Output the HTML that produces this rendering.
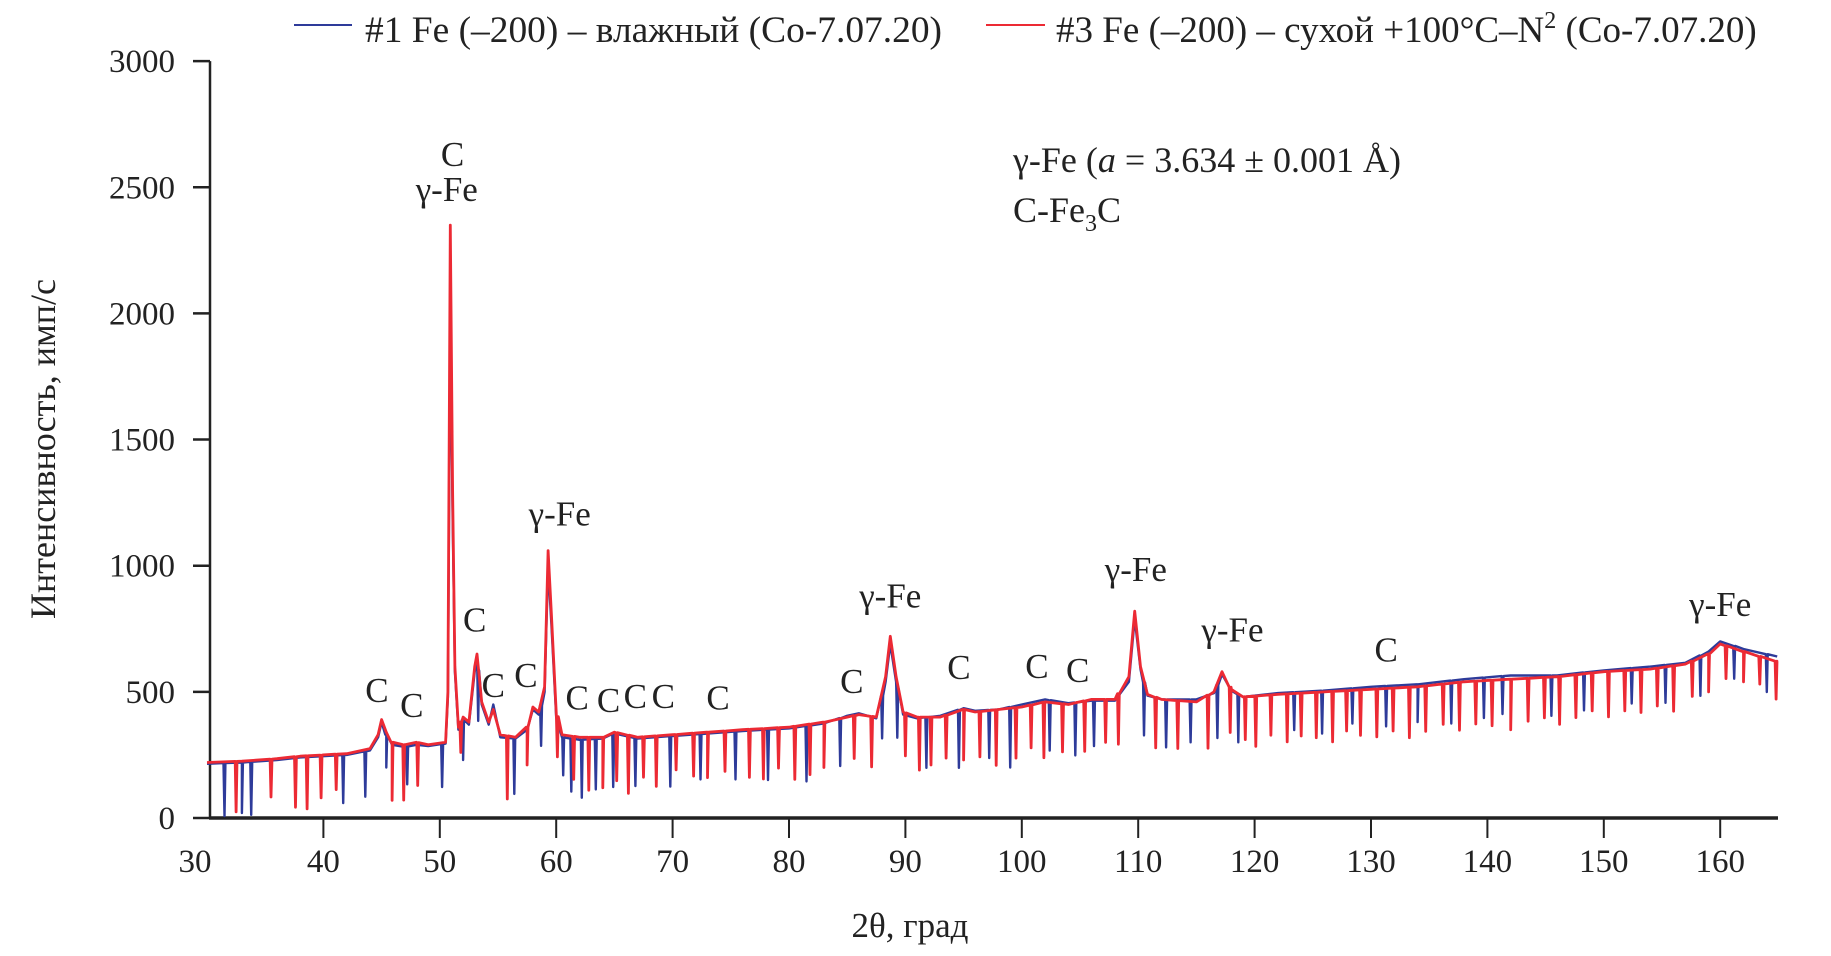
<!DOCTYPE html>
<html><head><meta charset="utf-8"><style>
html,body{margin:0;padding:0;background:#fff;}
svg{display:block;font-family:"Liberation Serif",serif;}
</style></head><body>
<svg id="chart" width="1831" height="956" viewBox="0 0 1831 956">
<g id="axes"></g>
<g id="series"></g>
<g id="labels"></g>
</svg>
<script>
const xTicks=[30,40,50,60,70,80,90,100,110,120,130,140,150,160];
const yTicks=[0,500,1000,1500,2000,2500,3000];
const redBase=[[30,220],[33,225],[36,235],[38,245],[40,250],[42,255],[44,275],[44.7,330],[45,390],[45.4,340],[45.9,300],[47,290],[48,300],[49,290],[50.5,300],[50.7,500],[50.9,2350],[51.1,1300],[51.3,600],[51.6,360],[52,400],[52.5,380],[53,600],[53.2,650],[53.6,460],[54.2,380],[54.6,430],[55.2,330],[56.5,320],[57.5,360],[58,440],[58.5,420],[59,520],[59.3,1060],[59.6,800],[60,420],[60.5,330],[62,320],[64,320],[65,340],[67,320],[70,330],[73,340],[76,350],[80,360],[83,380],[85,400],[86,410],[87.5,400],[88.3,560],[88.7,720],[89.2,560],[89.8,420],[91,400],[93,400],[95,430],[96,420],[98,430],[100,440],[102,460],[104,450],[106,470],[108,470],[109.2,560],[109.7,820],[110.2,600],[110.8,490],[112,470],[115,460],[116.5,500],[117.2,580],[118,510],[119,480],[122,490],[126,500],[130,510],[134,520],[138,540],[142,550],[146,560],[150,580],[154,590],[157,610],[159,650],[160,690],[162,660],[164.9,620]];
const blueBase=[[30,215],[33,220],[36,230],[38,240],[40,245],[42,250],[44,268],[44.7,320],[45,380],[45.4,330],[45.9,290],[47,282],[48,290],[49,285],[50.5,295],[50.7,480],[50.9,2000],[51.1,1200],[51.3,580],[51.6,350],[52,390],[52.5,370],[53,580],[53.2,630],[53.6,450],[54.2,370],[54.6,450],[55.2,320],[56.5,315],[57.5,350],[58,430],[58.5,410],[59,500],[59.3,1000],[59.6,760],[60,400],[60.5,320],[62,310],[64,315],[65,335],[67,315],[70,325],[73,335],[76,345],[80,355],[83,375],[85,405],[86,415],[87.5,395],[88.3,540],[88.7,690],[89.2,540],[89.8,410],[91,395],[93,405],[95,435],[96,425],[98,430],[100,450],[102,470],[104,455],[106,465],[108,465],[109.2,540],[109.7,790],[110.2,590],[110.8,485],[112,470],[115,470],[116.5,495],[117.2,570],[118,505],[119,480],[122,495],[126,505],[130,520],[134,530],[138,550],[142,565],[146,565],[150,585],[154,600],[157,615],[159,660],[160,700],[162,670],[164.9,640]];
const redDips=[[32.5,200],[35.5,150],[37.6,200],[38.6,210],[39.8,170],[41.1,140],[45.9,230],[46.9,220],[48.1,170],[51.8,120],[55.8,250],[57.5,150],[60.1,160],[61.5,170],[62.8,210],[64.0,200],[65.2,190],[66.2,230],[67.5,160],[68.6,200],[70.3,140],[71.8,170],[73.0,180],[74.5,160],[76.6,190],[77.8,200],[79.1,160],[80.5,210],[81.8,200],[83.0,180],[85.6,170],[87.1,200],[90.0,170],[91.2,210],[92.2,190],[93.5,170],[95.0,200],[96.4,180],[97.8,220],[99.5,200],[100.8,170],[101.9,220],[103.5,190],[105.4,200],[107.2,170],[108.3,200],[111.5,200],[113.4,190],[116.0,210],[117.9,180],[119.2,170],[120.1,200],[121.4,160],[122.8,190],[124.0,170],[125.3,180],[126.7,200],[127.9,160],[129.1,180],[130.5,190],[131.9,170],[133.3,200],[134.7,180],[136.2,160],[137.6,190],[139.0,170],[140.4,180],[142.0,200],[143.5,170],[144.9,160],[146.2,190],[147.6,170],[149.0,150],[150.4,180],[151.8,160],[153.2,170],[154.6,150],[156.0,180],[157.6,140],[159.0,150],[160.5,130],[162.0,120],[163.4,110],[164.8,150]];
const blueDips=[[31.5,210],[33.0,200],[33.8,210],[41.7,190],[43.6,180],[45.4,130],[47.2,150],[50.2,170],[52.0,160],[53.3,200],[56.4,220],[58.7,160],[60.6,150],[61.3,210],[62.2,230],[63.4,200],[64.9,210],[66.8,190],[69.8,200],[72.4,180],[75.4,190],[78.2,200],[81.5,220],[84.4,190],[88.0,170],[89.3,200],[91.8,200],[94.6,230],[97.2,190],[99.0,240],[102.4,200],[104.6,210],[106.2,180],[110.5,210],[112.4,190],[114.5,170],[116.8,210],[118.6,190],[123.4,150],[125.8,170],[128.4,140],[131.3,160],[134.0,150],[136.9,170],[139.7,160],[141.3,150],[145.5,160],[148.3,150],[152.4,140],[155.3,150],[158.3,160],[161.2,130],[164.0,150]];
const peakLabels=[["C",51.1,2585],["γ-Fe",50.6,2445],["C",44.6,460],["C",47.6,400],["C",53.0,740],["C",54.6,480],["C",57.4,520],["γ-Fe",60.3,1160],["C",61.8,430],["C",64.5,420],["C",66.8,435],["C",69.2,435],["C",73.9,430],["C",85.4,495],["γ-Fe",88.7,835],["C",94.6,550],["C",101.3,555],["C",104.8,540],["γ-Fe",109.8,940],["γ-Fe",118.1,700],["C",131.3,620],["γ-Fe",160.0,800]];

const NS='http://www.w3.org/2000/svg';
const X0=207,XS=11.64,Y0=818,YS=252.3/1000;
function xs(v){return X0+(v-30)*XS;}
function ys(v){return Y0-v*YS;}
function mk(tag,attrs,parent){const e=document.createElementNS(NS,tag);for(const k in attrs)e.setAttribute(k,attrs[k]);parent.appendChild(e);return e;}
function interp(base,x){for(let i=1;i<base.length;i++){if(x<=base[i][0]){const a=base[i-1],b=base[i];const t=(x-a[0])/(b[0]-a[0]);return a[1]+t*(b[1]-a[1]);}}return base[base.length-1][1];}
function buildPts(base,dips){let pts=base.map(p=>[p[0],p[1]]);dips.forEach(d=>{const b=interp(base,d[0]);pts.push([d[0]-0.08,b]);pts.push([d[0],b-d[1]]);pts.push([d[0]+0.08,b]);});pts.sort((a,b)=>a[0]-b[0]);return pts.map(p=>xs(p[0]).toFixed(1)+','+ys(p[1]).toFixed(1)).join(' ');}

const axes=document.getElementById('axes');
const ser=document.getElementById('series');
const lab=document.getElementById('labels');

let l=mk('line',{x1:xs(30)+3,y1:ys(3000),x2:xs(30)+3,y2:ys(0),stroke:'#222','stroke-width':2.5},axes);


l=mk('line',{x1:xs(30)+2,y1:ys(0),x2:1778,y2:ys(0),stroke:'#222','stroke-width':3.5},axes);


yTicks.forEach(v=>{
  const t=mk('line',{x1:xs(30)-14,y1:ys(v),x2:xs(30)+3,y2:ys(v),stroke:'#222','stroke-width':2.5},axes);
  
  
  const tx=mk('text',{x:175,y:ys(v)+11,'text-anchor':'end','font-size':33,fill:'#222'},axes);
  tx.textContent=v;
  
  
});
xTicks.forEach(v=>{
  if(v>30){const t=mk('line',{x1:xs(v),y1:ys(0),x2:xs(v),y2:ys(0)+20,stroke:'#222','stroke-width':2},axes);
  
  }
  const tx=mk('text',{x:xs(v)-(v==30?12:0),y:872,'text-anchor':'middle','font-size':33,fill:'#222'},axes);
  tx.textContent=v;
  
  
});
let tt=mk('text',{x:910,y:937,'text-anchor':'middle','font-size':35,fill:'#222'},axes);
tt.textContent='2θ, град';


tt=mk('text',{x:0,y:0,'text-anchor':'middle','font-size':36,fill:'#222',transform:'translate(55,449) rotate(-90)'},axes);
tt.textContent='Интенсивность, имп/с';



let pl=mk('polyline',{points:buildPts(blueBase,blueDips),fill:'none',stroke:'#2e3b9a','stroke-width':2.4,'stroke-linejoin':'round'},ser);


pl=mk('polyline',{points:buildPts(redBase,redDips),fill:'none',stroke:'#ec2a34','stroke-width':2.8,'stroke-linejoin':'round'},ser);



peakLabels.forEach(p=>{
  const t=mk('text',{x:xs(p[1]),y:ys(p[2]),'text-anchor':'middle','font-size':35,fill:'#222'},lab);
  t.textContent=p[0];
  
  
});
</script>
<svg style="position:absolute;left:0;top:0" width="1831" height="956">
<g font-family="Liberation Serif, serif" fill="#222">
<line x1="294" y1="25" x2="352" y2="25" stroke="#2e3b9a" stroke-width="2"/>
<text x="365" y="42" font-size="37" textLength="577" lengthAdjust="spacingAndGlyphs">#1 Fe (–200) – влажный (Co-7.07.20)</text>
<line x1="986" y1="25" x2="1045" y2="25" stroke="#ec2a34" stroke-width="2"/>
<text x="1056" y="42" font-size="37">#3 Fe (–200) – сухой +100°C–N<tspan font-size="24" dy="-14">2</tspan><tspan dy="14"> (Co-7.07.20)</tspan></text>
<text x="1013" y="172" font-size="36">γ-Fe (<tspan font-style="italic">a</tspan> = 3.634 ± 0.001 Å)</text>
<text x="1013" y="222" font-size="36">C-Fe<tspan font-size="24" dy="9">3</tspan><tspan dy="-9">C</tspan></text>
</g></svg>
</body></html>
